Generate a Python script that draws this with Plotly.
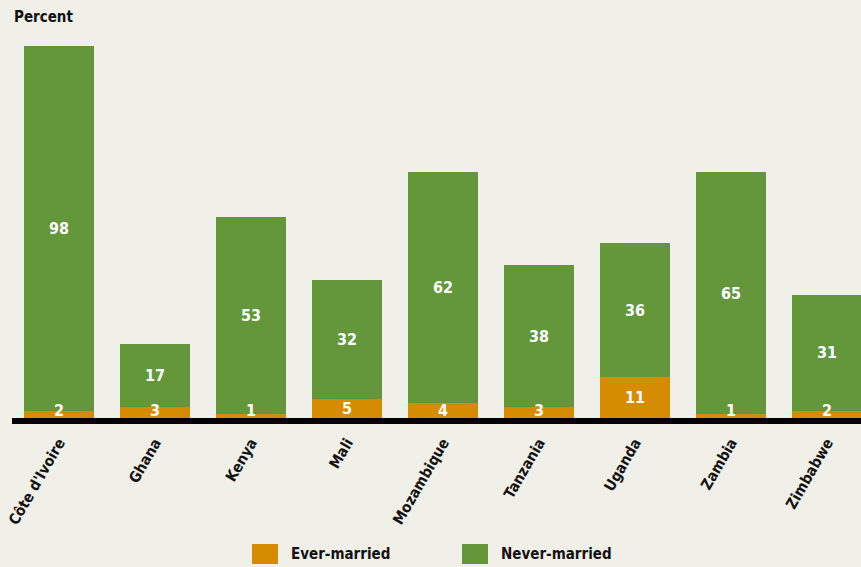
import plotly.graph_objects as go

countries = ["Côte d'Ivoire", "Ghana", "Kenya", "Mali", "Mozambique", "Tanzania", "Uganda", "Zambia", "Zimbabwe"]
ever_married = [2, 3, 1, 5, 4, 3, 11, 1, 2]
never_married = [98, 17, 53, 32, 62, 38, 36, 65, 31]

ORANGE = "#D68C00"
GREEN = "#63973A"
BG = "#F0F0E9"
FONT = "DejaVu Sans Condensed, Liberation Sans Narrow, Open Sans, sans-serif"

fig = go.Figure()
fig.add_bar(x=countries, y=ever_married, name="Ever-married", marker_color=ORANGE,
            marker_line_width=0, showlegend=False)
fig.add_bar(x=countries, y=never_married, name="Never-married", marker_color=GREEN,
            marker_line_width=0, showlegend=False)

ann = []
for c, e, n in zip(countries, ever_married, never_married):
    ann.append(dict(x=c, y=max(e / 2, 1.9), text=f"<b>{e}</b>", showarrow=False,
                    font=dict(color="white", size=16, family=FONT), yanchor="middle"))
    ann.append(dict(x=c, y=e + n / 2, text=f"<b>{n}</b>", showarrow=False,
                    font=dict(color="white", size=16, family=FONT), yanchor="middle"))

ann.append(dict(xref="paper", yref="paper", x=-11/850, y=1, text="<b>Percent</b>", showarrow=False,
                xanchor="left", yanchor="top", yshift=4, xshift=12,
                font=dict(size=15, family=FONT, color="#111")))

shapes = [dict(type="rect", xref="paper", yref="paper", x0=1/850, x1=1,
               y0=-6/408, y1=0, fillcolor="black", line_width=0)]

# custom legend
legend_items = [("Ever-married", ORANGE, 252), ("Never-married", GREEN, 462)]
for name, col, px in legend_items:
    x0 = (px - 11) / 850
    shapes.append(dict(type="rect", xref="paper", yref="paper", x0=x0, x1=x0 + 26/850,
                       y0=-(564 - 418) / 408, y1=-(544 - 418) / 408, fillcolor=col, line_width=0))
    ann.append(dict(xref="paper", yref="paper", x=(px + 37 - 11) / 850, y=-(554 - 418) / 408,
                    text=f"<b>{name}</b>", showarrow=False, xanchor="left", yanchor="middle",
                    font=dict(size=15, family=FONT, color="#111")))

fig.update_layout(
    width=861, height=567,
    margin=dict(l=11, r=0, t=10, b=149, autoexpand=False),
    paper_bgcolor=BG, plot_bgcolor=BG,
    barmode="stack", bargap=0.27,
    showlegend=False,
    annotations=ann, shapes=shapes,
    xaxis=dict(range=[-0.5, 8.354], tickangle=-60, showgrid=False, zeroline=False,
               showline=False, ticks="", ticklabelstandoff=12, automargin=False,
               tickfont=dict(size=15, family=FONT, color="#111")),
    yaxis=dict(range=[0, 408/3.72], visible=False, showgrid=False, zeroline=False,
               automargin=False),
)
fig.update_xaxes(tickvals=countries, ticktext=[f"<b>{c}</b>" for c in countries])

fig.write_html("out.html")
